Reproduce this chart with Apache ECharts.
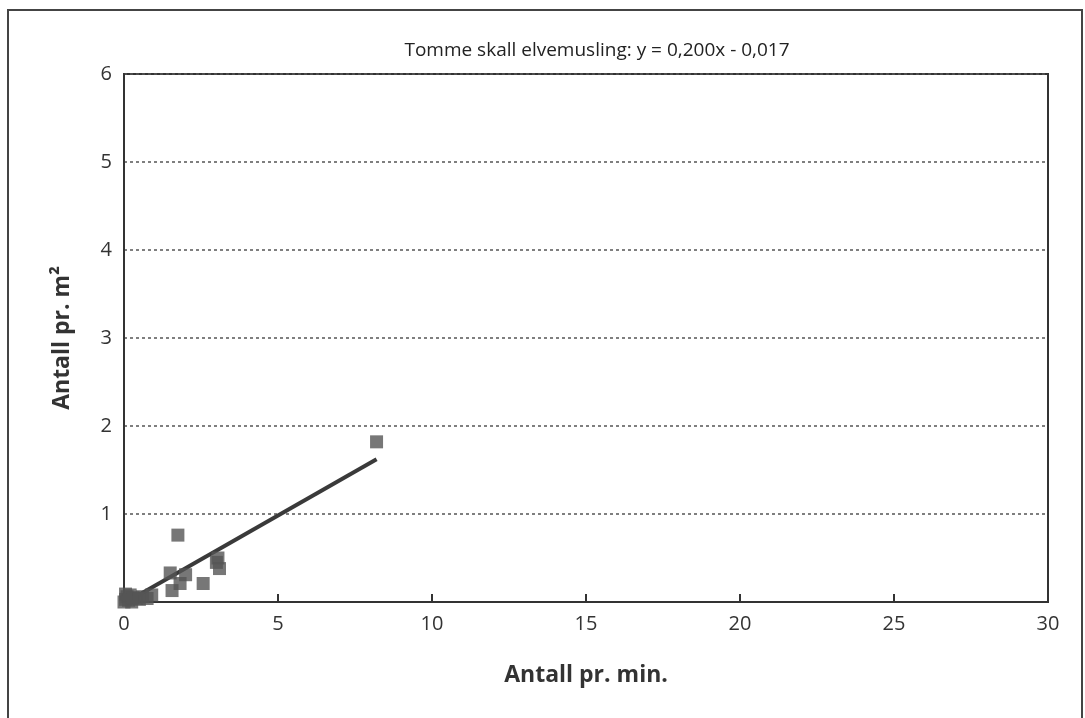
<!DOCTYPE html>
<html><head><meta charset="utf-8">
<script src="https://cdn.jsdelivr.net/npm/echarts@6/dist/echarts.min.js"></script>
<style>html,body{margin:0;padding:0;background:#fff}#c{width:1085px;height:718px}</style>
</head><body><div id="c"></div>
<script>
const titleText = 'Tomme skall elvemusling: y = 0,200x - 0,017';
const xName = 'Antall pr. min.';
const yName = 'Antall pr. m²';
const xTicks = [0, 5, 10, 15, 20, 25, 30];
const yTicks = [0, 1, 2, 3, 4, 5, 6];
const pointsX = [8.2, 1.75, 1.5, 2.0, 1.82, 1.56, 2.57, 3.05, 3.1, 3.0, 0.0, 0.05, 0.1, 0.15, 0.2, 0.3, 0.4, 0.5, 0.6, 0.75, 0.9, 0.25, 0.05];
const pointsY = [1.82, 0.76, 0.33, 0.31, 0.21, 0.13, 0.21, 0.5, 0.38, 0.45, 0.0, 0.03, 0.06, 0.02, 0.08, 0.05, 0.04, 0.03, 0.06, 0.04, 0.08, 0.0, 0.09];
const slope = 0.200, intercept = -0.017;
const lineX = [0.15, 8.2];

const chart = echarts.init(document.getElementById('c'));
const pts = pointsX.map((x, i) => [x, pointsY[i]]);
const linePts = lineX.map(x => [x, slope * x + intercept]);
const font = '"Open Sans", "Noto Sans", sans-serif';
chart.setOption({
  animation: false,
  title: { text: titleText, left: 592, top: 36, textAlign: 'center',
    textStyle: { fontFamily: font, fontSize: 19, fontWeight: 'normal', color: '#222' } },
  graphic: [{ type: 'rect', shape: { x: 8, y: 10, width: 1074, height: 720 },
    style: { fill: 'none', stroke: '#444', lineWidth: 2 } }],
  grid: { left: 124, top: 74, width: 924, height: 528, show: true, borderColor: '#333', borderWidth: 2, backgroundColor: 'transparent' },
  xAxis: { type: 'value', min: 0, max: 30, interval: 5,
    name: xName, nameLocation: 'middle', nameGap: 62,
    nameTextStyle: { fontFamily: font, fontSize: 23, fontWeight: 'bold', color: '#333' },
    axisLine: { show: true, lineStyle: { color: '#333', width: 2 } },
    axisTick: { show: true, inside: true, length: 8, lineStyle: { color: '#333', width: 2 } },
    axisLabel: { fontFamily: font, fontSize: 20, color: '#333', margin: 12, formatter: v => xTicks.includes(v) ? String(v) : '' },
    splitLine: { show: false } },
  yAxis: { type: 'value', min: 0, max: 6, interval: 1,
    name: yName, nameLocation: 'middle', nameGap: 50,
    nameTextStyle: { fontFamily: font, fontSize: 23, fontWeight: 'bold', color: '#333' },
    axisLine: { show: true, lineStyle: { color: '#333', width: 2 } },
    axisTick: { show: false },
    axisLabel: { fontFamily: font, fontSize: 20, color: '#333', margin: 12, formatter: v => (v === 0 || !yTicks.includes(v)) ? '' : String(v) },
    splitLine: { show: true, lineStyle: { color: '#555', type: [3, 3], width: 1.5 } } },
  series: [
    { type: 'line', data: linePts, symbol: 'none', lineStyle: { color: '#3a3a3a', width: 4 }, z: 2 },
    { type: 'scatter', data: pts, symbol: 'rect', symbolSize: 13, itemStyle: { color: '#555' }, z: 3 }
  ]
});
</script></body></html>
